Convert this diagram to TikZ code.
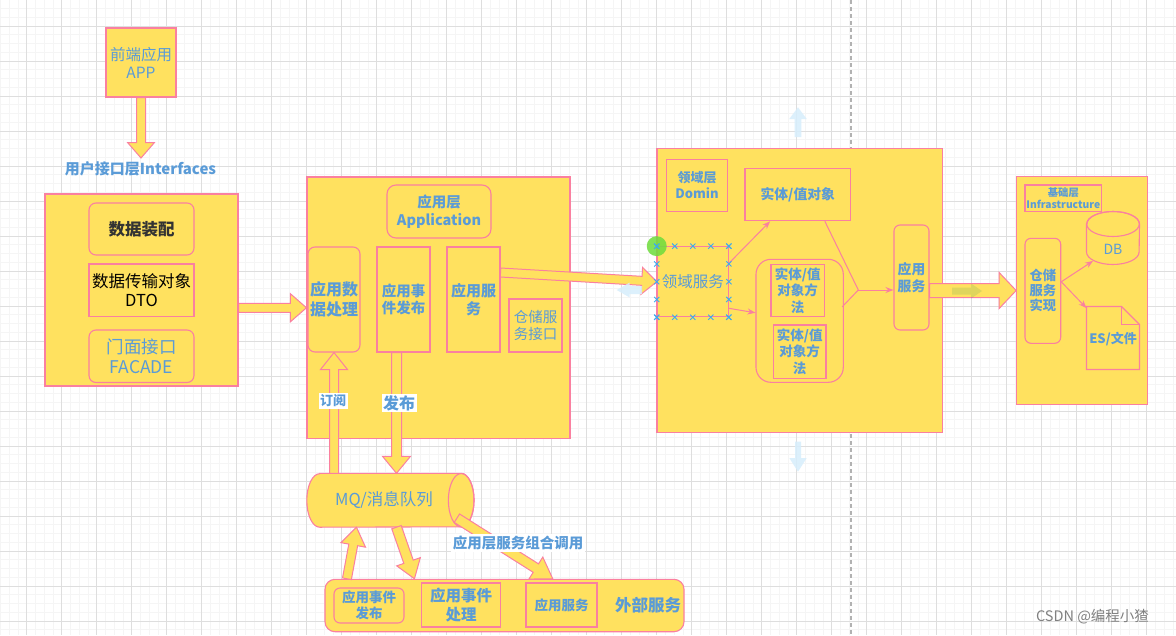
\documentclass[tikz,border=0pt]{standalone}
\usepackage{fontspec}
\setmainfont{Noto Sans CJK SC}
\usetikzlibrary{calc,arrows.meta}
\definecolor{yl}{RGB}{255,225,95}
\definecolor{pk}{RGB}{250,128,160}
\definecolor{bl}{RGB}{90,155,215}
\definecolor{hint}{RGB}{215,238,252}
\definecolor{gmaj}{RGB}{222,222,222}
\definecolor{gmin}{RGB}{245,245,245}
\definecolor{xb}{RGB}{60,170,240}
\definecolor{grn}{RGB}{110,220,60}
\tikzset{
 box/.style={draw=pk, fill=yl, line width=1.1pt, inner sep=0pt, align=center, text=bl},
 rbox/.style={box, rounded corners=7pt},
 ghost/.style={draw=none, inner sep=0pt},
 barr/.style={draw=pk, fill=yl, line width=1pt, line join=miter},
 harr/.style={fill=hint, draw=none},
 thinarr/.style={draw=pk, line width=1pt, -{Stealth[length=8pt,width=6pt]}},
 thinline/.style={draw=pk, line width=1pt},
 xmark/.style={draw=xb, line width=0.9pt},
 lbl/.style={text=bl, inner sep=1.5pt},
}
\newcommand{\blockarr}[6]{%
  \coordinate (bhc) at ($(#3)!#6!(#2)$);
  \draw[#1] ($(#2)!#4!90:(#3)$) -- ($(bhc)!#4!-90:(#2)$) -- ($(bhc)!#5!-90:(#2)$) -- (#3)
     -- ($(bhc)!#5!90:(#2)$) -- ($(bhc)!#4!90:(#2)$) -- ($(#2)!#4!-90:(#3)$) -- cycle;}
\begin{document}
\begin{tikzpicture}[x=1pt,y=-1pt]
\useasboundingbox (0,0) rectangle (1176,635);
\fill[white] (0,0) rectangle (1176,635);
\begin{scope}
\clip (0,0) rectangle (1176,635);
\foreach \i in {0,...,135} \draw[gmin, line width=0.6pt] ({-8.3+8.75*\i},0) -- ++(0,635);
\foreach \i in {0,...,74} \draw[gmin, line width=0.6pt] (0,{-9+8.75*\i}) -- ++(1176,0);
\foreach \i in {0,...,34} \draw[gmaj, line width=0.8pt] ({-8.3+35*\i},0) -- ++(0,635);
\foreach \i in {0,...,19} \draw[gmaj, line width=0.8pt] (0,{-9+35*\i}) -- ++(1176,0);
\end{scope}
\coordinate (dtop) at (851,0);
\coordinate (dbot) at (851,635);
\draw[gray!60, dash pattern=on 4pt off 3pt, line width=1.1pt] (dtop) -- (dbot);

% ---------- Interfaces ----------
\node[box, minimum width=70pt, minimum height=69pt, font=\fontsize{15.5}{18}\selectfont] (app) at (141,62.5) {前端应用\\APP};
\node[lbl, font=\bfseries\fontsize{15}{18}\selectfont] (iflbl) at (140.5,169) {用户接口层Interfaces};
\node[box, minimum width=193pt, minimum height=192pt] (ifbox) at (141.5,290) {};
\node[rbox, minimum width=105pt, minimum height=52pt, text=black!80, font=\bfseries\fontsize{16.5}{20}\selectfont] (zp) at (141.5,229) {数据装配};
\node[box, minimum width=105pt, minimum height=52.5pt, text=black, font=\fontsize{16.5}{19}\selectfont] (dto) at (141.5,290.25) {数据传输对象\\DTO};
\node[rbox, minimum width=105pt, minimum height=52.5pt, font=\fontsize{17.5}{20.5}\selectfont] (facade) at (141.5,356.25) {门面接口\\FACADE};

% ---------- Application ----------
\node[box, minimum width=263pt, minimum height=261.5pt] (appbox) at (438.5,307.75) {};
\node[rbox, rounded corners=9pt, minimum width=104pt, minimum height=53pt, font=\bfseries\fontsize{14.5}{17.5}\selectfont] (applbl) at (439,211.5) {应用层\\Application};
\node[rbox, minimum width=52pt, minimum height=105pt, font=\bfseries\fontsize{16}{20}\selectfont] (dp) at (334,299.5) {应用数\\据处理};
\node[box, minimum width=53pt, minimum height=105pt, font=\bfseries\fontsize{14.5}{17}\selectfont] (ep) at (403.5,299.5) {应用事\\件发布};
\node[box, minimum width=53pt, minimum height=105pt, font=\bfseries\fontsize{15}{17.5}\selectfont] (asvc) at (473.5,299.5) {应用服\\务};
\node[box, minimum width=53pt, minimum height=53pt, font=\fontsize{14.5}{17.5}\selectfont] (repo) at (535.5,325.5) {仓储服\\务接口};

% ---------- MQ ----------
\path node[ghost, minimum width=154pt, minimum height=53.5pt] (mq) at (384,500.25) {};
\draw[draw=pk, fill=yl, line width=1.1pt] ($(mq.north west)+(12.85,0)$) -- (mq.north east)
   arc[start angle=90, end angle=-90, x radius=12.85pt, y radius=26.75pt]
   -- ($(mq.south west)+(12.85,0)$)
   arc[start angle=270, end angle=90, x radius=12.85pt, y radius=26.75pt] -- cycle;
\draw[pk, line width=1.1pt] (mq.east) ellipse [x radius=12.85pt, y radius=26.75pt];
\node[lbl, font=\fontsize{16.5}{20}\selectfont] (mqtext) at (mq.center) {MQ/消息队列};

% ---------- External ----------
\node[rbox, rounded corners=10pt, minimum width=359pt, minimum height=52.4pt] (ext) at (504.5,605.5) {};
\node[rbox, rounded corners=6pt, minimum width=70pt, minimum height=35pt, font=\bfseries\fontsize{13.5}{16.5}\selectfont] (xep) at (369,605.5) {应用事件\\发布};
\node[box, minimum width=79pt, minimum height=44pt, font=\bfseries\fontsize{15.5}{19}\selectfont] (xeh) at (461,605) {应用事件\\处理};
\node[box, minimum width=71pt, minimum height=44pt, font=\bfseries\fontsize{13.5}{16}\selectfont] (xsvc) at (561.5,605) {应用服务};
\node[lbl, font=\bfseries\fontsize{16.5}{20}\selectfont] (xlbl) at (648,605) {外部服务};

% ---------- Domain ----------
\node[box, minimum width=285.5pt, minimum height=284.2pt] (dom) at (799.75,290.4) {};
\node[box, minimum width=61pt, minimum height=52.4pt, font=\bfseries\fontsize{13}{16}\selectfont] (domlbl) at (697,185.5) {领域层\\Domin};
\node[box, minimum width=105.5pt, minimum height=52.4pt, font=\bfseries\fontsize{13.8}{16}\selectfont] (ent) at (797.75,194.5) {实体/值对象};
\node[box, minimum width=71pt, minimum height=70pt, font=\fontsize{15.5}{18}\selectfont] (dsvc) at (692.8,281.7) {领域服务};
\node[rbox, rounded corners=15pt, minimum width=87.3pt, minimum height=123pt] (cont) at (799.65,320.8) {};
\node[box, minimum width=53.3pt, minimum height=52.4pt, font=\bfseries\fontsize{13.5}{16.5}\selectfont] (m1) at (797.65,290.5) {实体/值\\对象方\\法};
\node[box, minimum width=52.7pt, minimum height=53.3pt, font=\bfseries\fontsize{13.5}{16.5}\selectfont] (m2) at (799.65,351.65) {实体/值\\对象方\\法};
\node[rbox, rounded corners=6pt, minimum width=35pt, minimum height=105pt, font=\bfseries\fontsize{13.8}{16.7}\selectfont] (dapp) at (911.5,277.5) {应用\\服务};
\coordinate (J) at (858.3,290);
\draw[thinline] ($(ent.south east)+(-26.2,0)$) -- (J);
\draw[thinline] ($(cont.east)+(-1.6,-14)$) -- (J);
\draw[thinarr] (J) -- (dapp.west |- J);
\draw[thinarr] ($(dsvc.east)+(0,-18.4)$) -- ($(ent.south west)+(25.7,0)$);
\draw[thinarr] ($(dsvc.east)+(0,26.6)$) -- ($(cont.west)+(0,-8)$);

% ---------- Infrastructure ----------
\node[box, minimum width=131pt, minimum height=227.6pt] (inf) at (1082.2,290.5) {};
\node[box, minimum width=76.7pt, minimum height=26.7pt, font=\bfseries\fontsize{10.3}{11.7}\selectfont] (inflbl) at (1063.35,198.35) {基础层\\Infrastructure};
\node[rbox, rounded corners=6pt, minimum width=35.7pt, minimum height=105pt, font=\bfseries\fontsize{13.3}{15}\selectfont] (repimpl) at (1042.85,290.8) {仓储\\服务\\实现};
\path node[ghost, minimum width=52.6pt, minimum height=52.6pt] (db) at (1113,238) {};
\draw[draw=pk, fill=yl, line width=1.1pt] ($(db.north west)+(0,12.5)$) -- ($(db.south west)+(0,-12.5)$)
   arc[start angle=180, end angle=360, x radius=26.3pt, y radius=12.5pt]
   -- ($(db.north east)+(0,12.5)$)
   arc[start angle=0, end angle=180, x radius=26.3pt, y radius=12.5pt] -- cycle;
\draw[pk, line width=1.1pt] ($(db.north)+(0,12.5)$) ellipse [x radius=26.3pt, y radius=12.5pt];
\node[lbl, font=\fontsize{14}{16}\selectfont] (dbtext) at ($(db.center)+(0,11)$) {DB};
\path node[ghost, minimum width=52.6pt, minimum height=62.6pt] (es) at (1113,338) {};
\draw[draw=pk, fill=yl, line width=1.1pt] (es.north west) -- ($(es.north east)+(-18,0)$) -- ($(es.north east)+(0,18)$) -- (es.south east) -- (es.south west) -- cycle;
\draw[pk, line width=1.1pt] ($(es.north east)+(-18,0)$) -- ($(es.north east)+(-18,18)$) -- ($(es.north east)+(0,18)$);
\node[lbl, font=\bfseries\fontsize{13}{16}\selectfont] (estext) at ($(es.center)+(0,1)$) {ES/文件};
\draw[thinarr] ($(repimpl.east)+(0,-9)$) -- ($(db.south west)+(6.6,-3.6)$);
\draw[thinarr] ($(repimpl.east)+(0,-9)$) -- ($(es.north west)+(0,1.6)$);

% ---------- block arrows ----------
\coordinate (a1e) at (141,158);
\blockarr{barr}{app.south}{a1e}{4.5pt}{13.3pt}{15.3pt}
\coordinate (a2s) at (ifbox.east |- appbox.west);
\blockarr{barr}{a2s}{appbox.west}{4.5pt}{14pt}{16pt}
\coordinate (a3s) at ($(asvc.east)+(0,-27)$);
\blockarr{barr}{a3s}{dsvc.west}{4.5pt}{13.5pt}{15pt}
\coordinate (a4s) at (dapp.east |- inf.west);
\blockarr{barr}{a4s}{inf.west}{7pt}{18pt}{17pt}
\coordinate (a5s) at (mq.north -| dp.south);
\blockarr{barr}{a5s}{dp.south}{4.5pt}{13.5pt}{17pt}
\coordinate (a6s) at ($(ep.south)+(-7,0)$);
\coordinate (a6e) at (a6s |- mq.north);
\blockarr{barr}{a6s}{a6e}{5pt}{14pt}{17pt}
\coordinate (a7s) at ($(ext.north west)+(22.5,0)$);
\coordinate (a7e) at ($(mq.south west)+(49.7,0)$);
\blockarr{barr}{a7s}{a7e}{4.5pt}{12.5pt}{18pt}
\coordinate (a8s) at ($(mq.south west)+(89.7,0)$);
\coordinate (a8e) at ($(ext.north west)+(90,0)$);
\blockarr{barr}{a8s}{a8e}{5pt}{12.5pt}{18pt}
\coordinate (a9s) at ($(mq.south east)+(-4.3,-9)$);
\coordinate (a9e) at ($(ext.north west)+(228.3,0)$);
\blockarr{barr}{a9s}{a9e}{5pt}{13pt}{20pt}

\node[lbl, fill=white, font=\bfseries\fontsize{13}{15}\selectfont] (sub) at (333,401) {订阅};
\node[lbl, fill=white, font=\bfseries\fontsize{16}{18}\selectfont] (pub) at (399,403) {发布};
\node[lbl, fill=white, font=\bfseries\fontsize{14.5}{17}\selectfont] (combo) at (518,543) {应用层服务组合调用};

% ---------- selection marks ----------
\fill[grn, opacity=0.85] (dsvc.north west) circle (10pt);
\foreach \t in {0,0.25,0.5,0.75,1} {
  \coordinate (xm1) at ($(dsvc.north west)!\t!(dsvc.north east)$);
  \coordinate (xm2) at ($(dsvc.south west)!\t!(dsvc.south east)$);
  \coordinate (xm3) at ($(dsvc.north west)!\t!(dsvc.south west)$);
  \coordinate (xm4) at ($(dsvc.north east)!\t!(dsvc.south east)$);
  \foreach \m in {xm1,xm2,xm3,xm4}
    \draw[xmark] ($(\m)+(-2.6,-2.6)$) -- ($(\m)+(2.6,2.6)$) ($(\m)+(-2.6,2.6)$) -- ($(\m)+(2.6,-2.6)$);
}

% ---------- hint arrows ----------
\begin{scope}[opacity=0.85]
\coordinate (h1s) at (798,137); \coordinate (h1e) at (798,107.3);
\blockarr{harr}{h1s}{h1e}{3.3pt}{8.8pt}{11.7pt}
\coordinate (h2s) at (798,441.7); \coordinate (h2e) at (798,471.7);
\blockarr{harr}{h2s}{h2e}{3pt}{8.7pt}{13.7pt}
\coordinate (h3s) at (642,290); \coordinate (h3e) at (616.7,290);
\blockarr{harr}{h3s}{h3e}{4pt}{7.5pt}{13pt}
\end{scope}
\begin{scope}[blend mode=multiply, opacity=0.8]
\coordinate (h4s) at (952,291); \coordinate (h4e) at (982,291);
\blockarr{harr}{h4s}{h4e}{3.5pt}{7.5pt}{11pt}
\end{scope}

\node[text=gray, inner sep=0pt, font=\fontsize{14.5}{17}\selectfont] (wm) at (1092.5,617) {CSDN @编程小猹};
\end{tikzpicture}
\end{document}
